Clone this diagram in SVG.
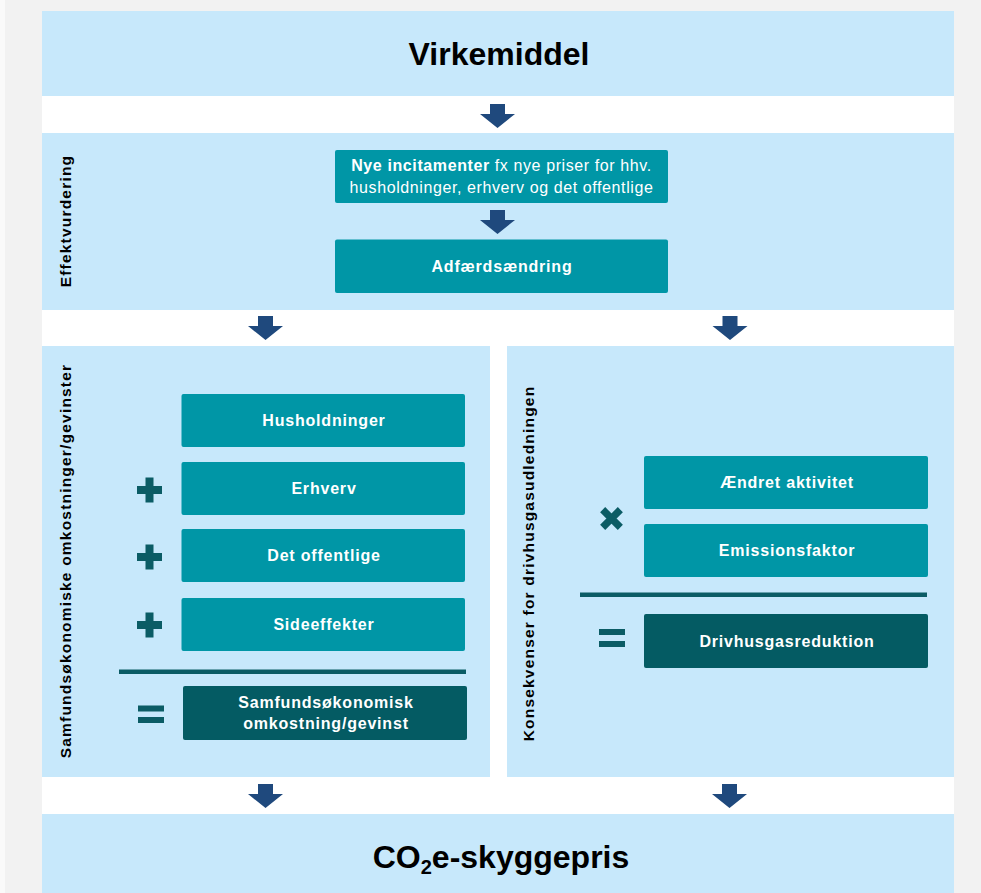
<svg xmlns="http://www.w3.org/2000/svg" width="981" height="893" viewBox="0 0 981 893">
<defs>
<style>
.bg{fill:#f2f2f2}
.band{fill:#c7e8fb}
.box{fill:#0096a6}
.dark{fill:#045b63}
.op{fill:#0b5c65}
.arrow{fill:#1f497d}
.bt{font-family:"Liberation Sans",Arial,sans-serif;font-weight:bold;font-size:16px;fill:#ffffff;text-anchor:middle;letter-spacing:0.8px}
.nt{font-family:"Liberation Sans",Arial,sans-serif;font-size:16px;fill:#ffffff;text-anchor:middle;letter-spacing:0.6px}
.title{font-family:"Liberation Sans",Arial,sans-serif;font-weight:bold;font-size:32px;fill:#000000;text-anchor:middle}
.side{font-family:"Liberation Sans",Arial,sans-serif;font-weight:bold;font-size:15.5px;fill:#000000;text-anchor:middle;letter-spacing:1.2px}
</style>
<path id="arr" d="M-7.5,-24 h15 v10 h10 L0,0 L-17.5,-14 h10 z"/>
</defs>
<rect class="bg" x="0" y="0" width="981" height="893"/>
<rect x="0" y="0" width="5" height="893" fill="#fafafa"/>
<rect x="42" y="11" width="912" height="882" fill="#ffffff"/>

<g id="virkemiddel">
<rect class="band" x="42" y="11" width="912" height="85"/>
<text class="title" x="499" y="65">Virkemiddel</text>
</g>

<g id="effektvurdering">
<rect class="band" x="42" y="133" width="912" height="177"/>
<text class="side" transform="translate(70.5,221) rotate(-90)">Effektvurdering</text>
</g>

<g id="incitamenter">
<rect class="box" x="335" y="150" width="333" height="53" rx="2"/>
<text class="nt" x="501.5" y="171"><tspan font-weight="bold">Nye incitamenter</tspan> fx nye priser for hhv.</text>
<text class="nt" x="501.5" y="193">husholdninger, erhverv og det offentlige</text>
</g>

<g id="adfaerd">
<rect class="box" x="335" y="239.5" width="333" height="53.5" rx="2"/>
<text class="bt" x="502" y="272">Adfærdsændring</text>
</g>

<g id="samfund-panel">
<rect class="band" x="42" y="346" width="448" height="431"/>
<text class="side" transform="translate(70.5,561) rotate(-90)">Samfundsøkonomiske omkostninger/gevinster</text>
</g>

<g id="konsekvens-panel">
<rect class="band" x="507" y="346" width="447" height="431"/>
<text class="side" transform="translate(533.5,563.5) rotate(-90)">Konsekvenser for drivhusgasudledningen</text>
</g>

<g id="husholdninger">
<rect class="box" x="181.5" y="394" width="283.5" height="53" rx="2"/>
<text class="bt" x="324" y="426">Husholdninger</text>
</g>
<g id="erhverv">
<rect class="box" x="181.5" y="462" width="283.5" height="53" rx="2"/>
<text class="bt" x="324" y="494">Erhverv</text>
</g>
<g id="offentlige">
<rect class="box" x="181.5" y="529" width="283.5" height="53" rx="2"/>
<text class="bt" x="324" y="561">Det offentlige</text>
</g>
<g id="sideeffekter">
<rect class="box" x="181.5" y="598" width="283.5" height="53" rx="2"/>
<text class="bt" x="324" y="630">Sideeffekter</text>
</g>
<g id="samfundsoekonomisk">
<rect class="dark" x="183" y="686" width="284" height="54" rx="2"/>
<text class="bt" x="326" y="708">Samfundsøkonomisk</text>
<text class="bt" x="326" y="729">omkostning/gevinst</text>
</g>

<g id="aendret">
<rect class="box" x="644" y="456" width="284" height="53" rx="2"/>
<text class="bt" x="787" y="488">Ændret aktivitet</text>
</g>
<g id="emission">
<rect class="box" x="644" y="524" width="284" height="53" rx="2"/>
<text class="bt" x="787" y="556">Emissionsfaktor</text>
</g>
<g id="drivhus">
<rect class="dark" x="644" y="614" width="284" height="54" rx="2"/>
<text class="bt" x="787" y="647">Drivhusgasreduktion</text>
</g>

<g id="operators">
<path class="op" d="M137,486 h25 v8 h-25 z M145.5,477.5 h8 v25 h-8 z"/>
<path class="op" d="M137,553 h25 v8 h-25 z M145.5,544.5 h8 v25 h-8 z"/>
<path class="op" d="M137,621 h25 v8 h-25 z M145.5,612.5 h8 v25 h-8 z"/>
<rect class="op" x="119" y="669.5" width="347" height="4.5"/>
<path class="op" d="M138,705.5 h26 v6 h-26 z M138,717 h26 v6 h-26 z"/>
<path class="op" transform="translate(611.5,518.5) rotate(45)" d="M-12.5,-3.6 h25 v7.2 h-25 z M-3.6,-12.5 h7.2 v25 h-7.2 z"/>
<rect class="op" x="580" y="592.5" width="347" height="4.5"/>
<path class="op" d="M599,629 h26 v6 h-26 z M599,641 h26 v6 h-26 z"/>
</g>

<g id="skyggepris">
<rect class="band" x="42" y="814" width="912" height="79"/>
<text class="title" x="501" y="868">CO<tspan font-size="20" dy="6">2</tspan><tspan dy="-6">e-skyggepris</tspan></text>
</g>

<g id="connectors">
<use href="#arr" class="arrow" x="497.5" y="128"/>
<use href="#arr" class="arrow" x="497.5" y="234"/>
<use href="#arr" class="arrow" x="265.5" y="340"/>
<use href="#arr" class="arrow" x="730" y="340"/>
<use href="#arr" class="arrow" x="265.5" y="808"/>
<use href="#arr" class="arrow" x="729.5" y="808"/>
</g>
</svg>
